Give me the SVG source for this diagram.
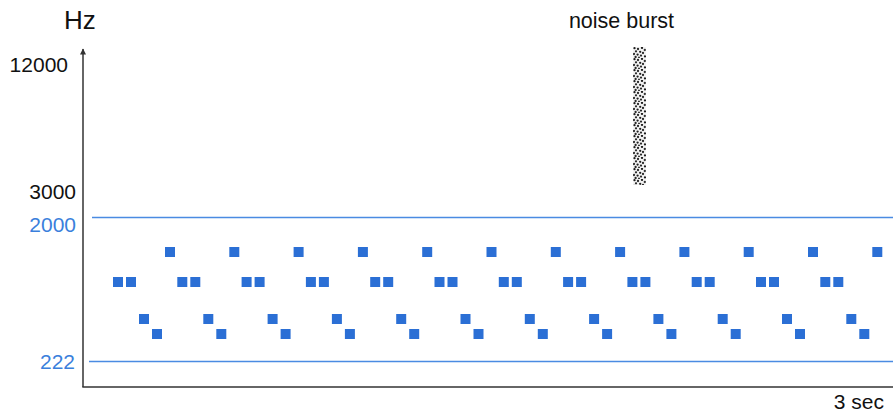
<svg xmlns="http://www.w3.org/2000/svg" xmlns:xlink="http://www.w3.org/1999/xlink" width="893" height="415" viewBox="0 0 893 415">
<style>
  text { font-family: "Liberation Sans", Arial, sans-serif; }
  .lbl { font-size: 21px; fill: #111; }
  .blue { fill: #3a7fdc; }
  .sq { fill: #2b6fd5; }
  .ref { stroke: #4a8be2; stroke-width: 1.6; fill: none; }
  .axis { stroke: #333; stroke-width: 1.5; fill: none; }
</style>
<defs>
  <marker id="arr" viewBox="0 0 10 10" refX="9" refY="5" markerWidth="8" markerHeight="6" orient="auto" markerUnits="userSpaceOnUse">
    <path d="M0,0 L10,5 L0,10 z" fill="#333"/>
  </marker>
  <pattern id="noise" width="13" height="11" patternUnits="userSpaceOnUse" x="633" y="47">
    <rect width="13" height="11" fill="#f4f4f4"/>
    <circle cx="1.5" cy="1.2" r="1.15" fill="#1e1e1e"/>
    <circle cx="5" cy="2" r="1.15" fill="#2a2a2a"/>
    <circle cx="9" cy="0.9" r="1.15" fill="#1e1e1e"/>
    <circle cx="11.8" cy="3" r="1.15" fill="#333"/>
    <circle cx="3" cy="4.3" r="1.15" fill="#2a2a2a"/>
    <circle cx="7.2" cy="4.8" r="1.15" fill="#1e1e1e"/>
    <circle cx="10" cy="6" r="1.15" fill="#2a2a2a"/>
    <circle cx="1" cy="7" r="1.15" fill="#333"/>
    <circle cx="4.6" cy="7.6" r="1.15" fill="#1e1e1e"/>
    <circle cx="8" cy="8.6" r="1.15" fill="#2a2a2a"/>
    <circle cx="12" cy="9.4" r="1.15" fill="#1e1e1e"/>
    <circle cx="2.6" cy="10" r="1.15" fill="#2a2a2a"/>
    <circle cx="6" cy="10.5" r="1" fill="#333"/>
  </pattern>
  <g id="cyc">
    <rect class="sq" x="113" y="277" width="10" height="10"/>
    <rect class="sq" x="126" y="277" width="10" height="10"/>
    <rect class="sq" x="139" y="314" width="10" height="10"/>
    <rect class="sq" x="152" y="329" width="10" height="10"/>
    <rect class="sq" x="165" y="247" width="10" height="10"/>
  </g>
</defs>
<rect width="893" height="415" fill="#fff"/>
<g id="axes">
  <line class="axis" x1="83" y1="387" x2="83" y2="49" marker-end="url(#arr)"/>
  <line class="axis" x1="82.3" y1="387" x2="893" y2="387"/>
</g>
<g id="reference-lines">
  <line class="ref" x1="92" y1="217.5" x2="893" y2="217.5"/>
  <line class="ref" x1="89" y1="361.5" x2="893" y2="361.5"/>
</g>
<g id="labels">
  <text x="64" y="29" style="font-size:26px" fill="#111">Hz</text>
  <text class="lbl" x="68" y="72" text-anchor="end">12000</text>
  <text class="lbl" x="76" y="199" text-anchor="end">3000</text>
  <text class="lbl blue" x="76" y="232" text-anchor="end">2000</text>
  <text class="lbl blue" x="75" y="369" text-anchor="end">222</text>
  <text class="lbl" x="884" y="409" text-anchor="end">3 sec</text>
  <text x="621.5" y="28" text-anchor="middle" style="font-size:21.5px" fill="#111">noise burst</text>
</g>
<g id="noise-burst">
  <rect x="633" y="47" width="13" height="138" fill="url(#noise)"/>
</g>
<g id="tones">
  <use xlink:href="#cyc" x="0"/>
  <use xlink:href="#cyc" x="64.3"/>
  <use xlink:href="#cyc" x="128.6"/>
  <use xlink:href="#cyc" x="192.9"/>
  <use xlink:href="#cyc" x="257.2"/>
  <use xlink:href="#cyc" x="321.5"/>
  <use xlink:href="#cyc" x="385.8"/>
  <use xlink:href="#cyc" x="450.1"/>
  <use xlink:href="#cyc" x="514.4"/>
  <use xlink:href="#cyc" x="578.7"/>
  <use xlink:href="#cyc" x="643"/>
  <use xlink:href="#cyc" x="707.3"/>
</g>
</svg>
